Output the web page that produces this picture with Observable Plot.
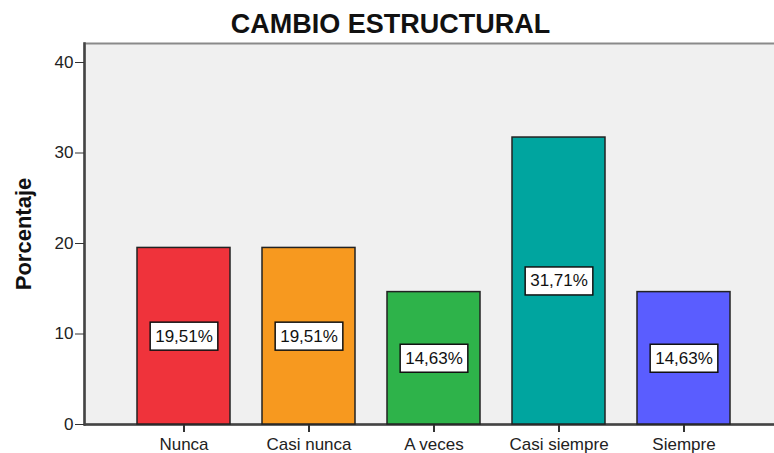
<!DOCTYPE html>
<html>
<head>
<meta charset="utf-8">
<script src="https://cdn.jsdelivr.net/npm/d3@7"></script>
<script src="https://cdn.jsdelivr.net/npm/@observablehq/plot@0.6"></script>
<style>
  html, body { margin: 0; padding: 0; background: white; overflow: hidden; }
</style>
</head>
<body>
<div id="chart"></div>
<script>
const title = "CAMBIO ESTRUCTURAL";
const yLabel = "Porcentaje";
const categories = ["Nunca", "Casi nunca", "A veces", "Casi siempre", "Siempre"];
const percentages = [19.51, 19.51, 14.63, 31.71, 14.63];
const valueLabels = ["19,51%", "19,51%", "14,63%", "31,71%", "14,63%"];
const barColors = ["#ef333b", "#f7991f", "#2eb34a", "#00a59f", "#5a5dff"];
const yTicks = [0, 10, 20, 30, 40];

const data = categories.map((c, i) => ({cat: c, value: percentages[i], label: valueLabels[i]}));

const chart = Plot.plot({
  width: 774,
  height: 453,
  marginLeft: 84,
  marginRight: -10,
  marginTop: 43,
  marginBottom: 29,
  style: {background: "white", fontFamily: "'Liberation Sans', Arial, sans-serif", fontSize: "17px", color: "#222", overflow: "visible"},
  x: {domain: categories, paddingInner: 0.254, paddingOuter: 0.405, label: null},
  y: {domain: [0, 42.1], label: null},
  color: {domain: categories, range: barColors},
  marks: [
    Plot.frame({fill: "#f0f0f0", stroke: "#8a8a8a", strokeWidth: 2}),
    Plot.frame({anchor: "left", stroke: "#444", strokeWidth: 2.5}),
    Plot.ruleY([0], {stroke: "#444", strokeWidth: 2.5}),
    Plot.axisY({ticks: yTicks, tickSize: 9, tickPadding: 2, tickFormat: d => String(d), stroke: "#333", fill: "#222", label: null, fontSize: 17}),
    Plot.axisX({tickSize: 8, tickPadding: 5, stroke: "#333", strokeWidth: 2, fill: "#222", label: null, fontSize: 17}),
    Plot.barY(data, {x: "cat", y: "value", fill: "cat", stroke: "#222", strokeWidth: 1.5}),
    Plot.text(data, {x: "cat", y: d => d.value / 2, text: "label", fontSize: 17, fill: "#111"}),
    Plot.text([title], {frameAnchor: "top", lineAnchor: "middle", textAnchor: "middle", dx: -44, dy: -19, fontSize: 27, fontWeight: "bold", fill: "#111"}),
    Plot.text([yLabel], {frameAnchor: "left", textAnchor: "middle", lineAnchor: "middle", dx: -61, rotate: -90, fontSize: 22, fontWeight: "bold", fill: "#111"})
  ]
});

document.getElementById("chart").appendChild(chart);

// draw white boxes with black borders behind the value labels
const ns = "http://www.w3.org/2000/svg";
const labelSet = new Set(valueLabels);
Array.from(chart.querySelectorAll("text")).filter(t => labelSet.has(t.textContent.trim())).forEach(t => {
  const b = t.getBBox();
  const r = document.createElementNS(ns, "rect");
  r.setAttribute("x", b.x - 5);
  r.setAttribute("y", b.y - 4.5);
  r.setAttribute("width", b.width + 10);
  r.setAttribute("height", b.height + 9);
  r.setAttribute("fill", "white");
  r.setAttribute("stroke", "#111");
  r.setAttribute("stroke-width", 1.5);
  if (t.getAttribute("transform")) r.setAttribute("transform", t.getAttribute("transform"));
  t.parentNode.insertBefore(r, t);
});
</script>
</body>
</html>
